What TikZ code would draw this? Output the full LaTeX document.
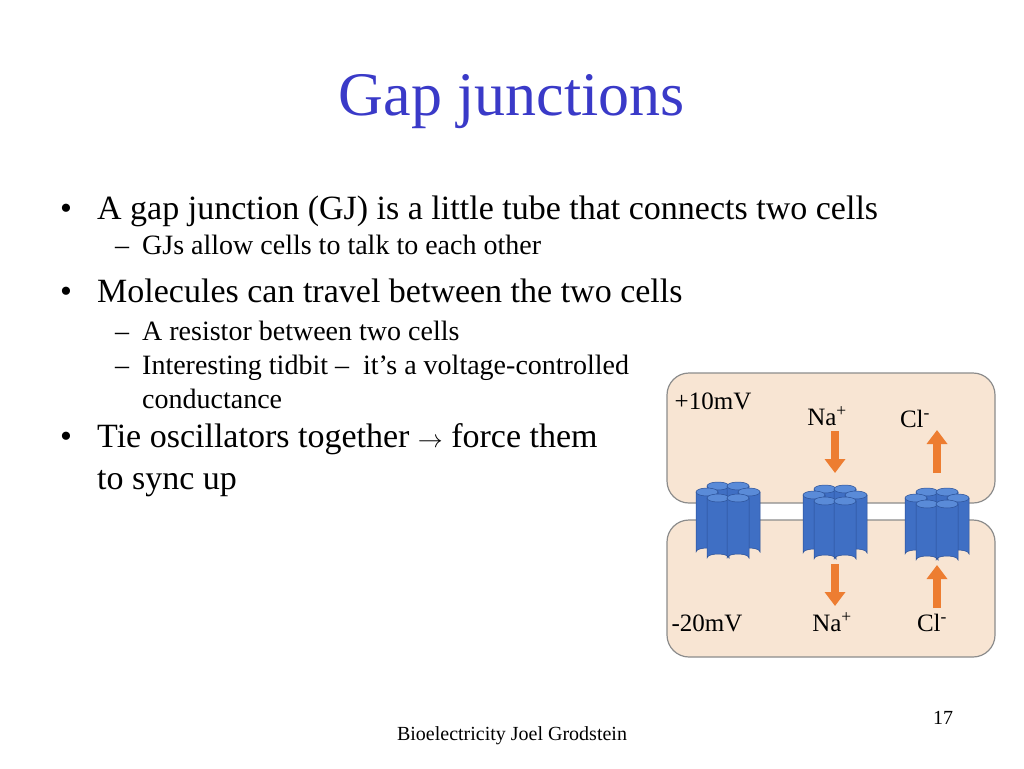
\documentclass[tikz,border=0pt]{standalone}
\usepackage{fontspec}
\setmainfont{Liberation Serif}
\usetikzlibrary{arrows.meta}
\definecolor{titleblue}{HTML}{3A3AC8}
\definecolor{cellfill}{HTML}{F8E5D3}
\definecolor{cellline}{HTML}{8C8C8C}
\definecolor{chanfill}{HTML}{3F6FC4}
\definecolor{chanedge}{HTML}{2A4F95}
\definecolor{chantop}{HTML}{5A8BD8}
\definecolor{ionarrow}{HTML}{ED7D31}
\tikzset{
  cellbox/.style={draw=cellline,fill=cellfill,line width=1.2pt,rounded corners=22pt},
  body/.style={anchor=base west,font=\fontsize{34}{40}\selectfont,inner sep=0},
  sub/.style={anchor=base west,font=\fontsize{28}{33}\selectfont,inner sep=0},
  lab/.style={font=\fontsize{25}{30}\selectfont,inner sep=0},
  ion/.style={draw=ionarrow,line width=8pt,-{Triangle[width=20pt,length=14pt]}},
}
\newcommand{\cyl}[3]{% x, top y, height
  \fill[chanfill,draw=chanedge,line width=0.5pt] (#1-11,#2) -- (#1-11,#2+#3) arc[start angle=180,end angle=360,x radius=11,y radius=4] -- (#1+11,#2) -- cycle;
  \fill[chantop,draw=chanedge,line width=0.5pt] (#1,#2) ellipse[x radius=11,y radius=4];
}
\newcommand{\chan}[3]{% x center, top y, height
  \cyl{#1-10}{#2}{#3}\cyl{#1+10}{#2}{#3}
  \cyl{#1-21}{#2+6}{#3}\cyl{#1+21}{#2+6}{#3}
  \cyl{#1-10}{#2+12}{#3}\cyl{#1+10}{#2+12}{#3}
}
\begin{document}
\begin{tikzpicture}[x=1pt,y=-1pt]
\useasboundingbox (0,0) rectangle (1024,768);
\fill[white] (0,0) rectangle (1024,768);
\node[font=\fontsize{62}{68}\selectfont,text=titleblue] (title) at (512,102) {Gap junctions};
\node[body] (b1d) at (60,219) {•};
\node[body] (b1) at (97,219) {A gap junction (GJ) is a little tube that connects two cells};
\node[sub] (s1d) at (115,254) {–};
\node[sub] (s1) at (142,254) {GJs allow cells to talk to each other};
\node[body] (b2d) at (60,302) {•};
\node[body] (b2) at (97,302) {Molecules can travel between the two cells};
\node[sub] (s2d) at (115,340) {–};
\node[sub] (s2) at (142,340) {A resistor between two cells};
\node[sub] (s3d) at (115,374) {–};
\node[sub] (s3) at (142,374) {Interesting tidbit –\ \ it’s a voltage-controlled};
\node[sub] (s3b) at (142,408) {conductance};
\node[body] (b3d) at (60,447) {•};
\node[body] (b3) at (97,447) {Tie oscillators together $\rightarrow$ force them};
\node[body] (b3b) at (97,489) {to sync up};
\node[font=\fontsize{20}{24}\selectfont] (foot) at (512,736) {Bioelectricity Joel Grodstein};
\node[font=\fontsize{20}{24}\selectfont] (page) at (943,718) {17};
% cells
\draw[cellbox] (667,373) rectangle (995,503);
\draw[cellbox] (667,520) rectangle (995,657);
% channels
\chan{728}{486}{60}
\chan{835}{489}{58}
\chan{937}{492}{56}
% labels
\node[lab] (v1) at (713,401) {+10mV};
\node[lab] (na1) at (827,416) {Na\textsuperscript{+}};
\node[lab] (cl1) at (915,419) {Cl\textsuperscript{-}};
\node[lab] (v2) at (707,623) {-20mV};
\node[lab] (na2) at (832,622) {Na\textsuperscript{+}};
\node[lab] (cl2) at (932,623) {Cl\textsuperscript{-}};
% arrows
\coordinate (a1s) at (835,431); \coordinate (a1e) at (835,473);
\coordinate (a2s) at (937,473); \coordinate (a2e) at (937,430);
\coordinate (a3s) at (835,564); \coordinate (a3e) at (835,606);
\coordinate (a4s) at (937,608); \coordinate (a4e) at (937,565);
\draw[ion] (a1s) -- (a1e);
\draw[ion] (a2s) -- (a2e);
\draw[ion] (a3s) -- (a3e);
\draw[ion] (a4s) -- (a4e);
\end{tikzpicture}
\end{document}
